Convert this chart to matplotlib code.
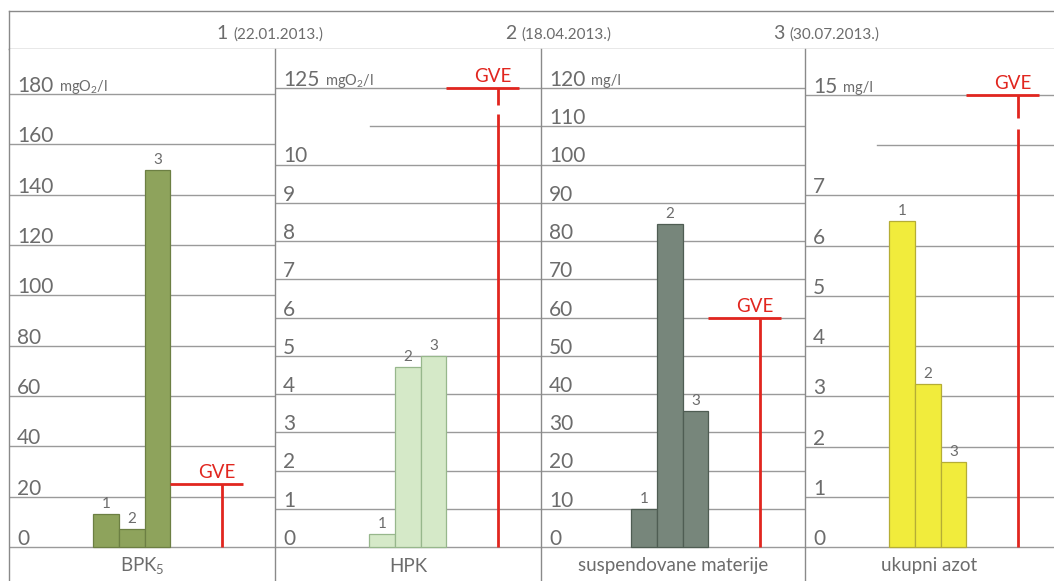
import matplotlib
matplotlib.use("Agg")
import matplotlib.pyplot as plt
import matplotlib.transforms as mtransforms

plt.rcParams["font.family"] = ["Lato", "DejaVu Sans"]
plt.rcParams["mathtext.default"] = "regular"

# ── data ──────────────────────────────────────────────────────────────────────
PANEL_NAMES   = ["BPK$_5$", "HPK", "suspendovane materije", "ukupni azot"]
UNITS         = ["mgO$_2$/l", "mgO$_2$/l", "mg/l", "mg/l"]
SAMPLE_LABELS = ["1", "2", "3"]
HEADER_NUMS   = ["1", "2", "3"]
HEADER_DATES  = ["(22.01.2013.)", "(18.04.2013.)", "(30.07.2013.)"]

BPK5_VALUES = [13, 7, 150]
HPK_VALUES  = [0.35, 4.7, 5.0]
SUSP_VALUES = [10, 84.5, 35.5]
AZOT_VALUES = [6.5, 3.25, 1.7]
GVE_VALUES  = [25, 125, 60, 15]

BPK5_TICKS = [0, 20, 40, 60, 80, 100, 120, 140, 160, 180]
HPK_TICKS  = [0, 1, 2, 3, 4, 5, 6, 7, 8, 9, 10]
SUSP_TICKS = [0, 10, 20, 30, 40, 50, 60, 70, 80, 90, 100, 110, 120]
AZOT_TICKS = [0, 1, 2, 3, 4, 5, 6, 7]
TOP_LABELS = [180, 125, 120, 15]     # value written on the top line

# broken axes: top line sits at this scale position, short line below it
TOP_POS     = [180, 12, 120, 9]
PARTIAL_POS = [None, 11, None, 8]

VALUES = [BPK5_VALUES, HPK_VALUES, SUSP_VALUES, AZOT_VALUES]
TICKS  = [BPK5_TICKS, HPK_TICKS, SUSP_TICKS, AZOT_TICKS]

# ── style ─────────────────────────────────────────────────────────────────────
BAR_FILL  = ["#8ea35c", "#d5e9c8", "#77867b", "#f1ec3c"]
BAR_EDGE  = ["#6c7f43", "#97b78c", "#4f5d53", "#b5ad35"]
RED       = "#e1261f"
GRID      = "#9a9a9a"
FRAME     = "#8a8a8a"
TXT       = "#6c6c6c"

# ── layout (pixels) ───────────────────────────────────────────────────────────
W, H = 1054, 581
PANEL_X   = [9, 275, 541, 805, 1054]
Y_TOP, Y_HEAD, Y_ZERO, Y_BOT = 11, 49, 547, 581
TOP_LINE_Y   = [94, 88, 88, 95]
BAR_OFFSET   = [84, 94, 90, 84]
BAR_W        = 25.8
PARTIAL_FRAC = [None, 0.357, None, 0.29]
HEADER_X     = [0.199, 0.475, 0.731]

fig = plt.figure(figsize=(W / 100, H / 100), dpi=100)


def px_axes(x0, y0, x1, y1):
    return fig.add_axes([x0 / W, 1 - y1 / H, (x1 - x0) / W, (y1 - y0) / H])


def to_pos(i, v):
    """map a value onto the (possibly broken) scale of panel i"""
    if PARTIAL_POS[i] is not None and v > TICKS[i][-1]:
        return TOP_POS[i]
    return v


# ── header row ────────────────────────────────────────────────────────────────
hax = px_axes(PANEL_X[0], Y_TOP, PANEL_X[-1], Y_HEAD)
hax.set_xlim(0, 1); hax.set_ylim(0, 1)
hax.set_xticks([]); hax.set_yticks([])
hax.spines["right"].set_visible(False)
for sp in ("top", "left", "bottom"):
    hax.spines[sp].set_color(FRAME); hax.spines[sp].set_linewidth(1.0)
for hx, num, date in zip(HEADER_X, HEADER_NUMS, HEADER_DATES):
    t = hax.text(hx, 0.27, num, fontsize=14, color=TXT,
                 va="baseline", ha="left")
    hax.annotate(date, xy=(1, 0.27), xycoords=(t, "data"),
                 xytext=(5, 0), textcoords="offset pixels",
                 fontsize=11, color=TXT, va="baseline", ha="left")

# ── panels ────────────────────────────────────────────────────────────────────
for i in range(4):
    x0, x1 = PANEL_X[i], PANEL_X[i + 1]
    ppu = (Y_ZERO - TOP_LINE_Y[i]) / TOP_POS[i]
    ax = px_axes(x0, Y_HEAD, x1, Y_BOT)
    ax.set_ylim(-(Y_BOT - Y_ZERO) / ppu, (Y_ZERO - Y_HEAD) / ppu)
    xl = -0.5 - BAR_OFFSET[i] / BAR_W
    ax.set_xlim(xl, xl + (x1 - x0) / BAR_W)
    ax.set_xticks([]); ax.set_yticks([])
    for sp in ("top", "right", "bottom"):
        ax.spines[sp].set_visible(False)
    ax.spines["left"].set_color(FRAME); ax.spines["left"].set_linewidth(1.0)

    ytrans = mtransforms.blended_transform_factory(ax.transAxes, ax.transData)

    # gridlines + labels
    for t in TICKS[i]:
        ax.axhline(t, color=GRID, lw=1.0, zorder=1)
    if PARTIAL_POS[i] is not None:
        ax.axhline(TOP_POS[i], color=GRID, lw=1.0, zorder=1)
        ax.axhline(PARTIAL_POS[i], xmin=PARTIAL_FRAC[i], color=GRID, lw=1.0, zorder=1)
        label_ticks = TICKS[i]
    else:
        label_ticks = TICKS[i][:-1]
    for t in label_ticks:
        ax.annotate(str(t), xy=(0, t), xycoords=ytrans, xytext=(8, 2),
                    textcoords="offset pixels", fontsize=15, color=TXT,
                    va="baseline", ha="left")
    top = ax.annotate(str(TOP_LABELS[i]), xy=(0, TOP_POS[i]), xycoords=ytrans,
                      xytext=(8, 2), textcoords="offset pixels", fontsize=15,
                      color=TXT, va="baseline", ha="left")
    ax.annotate(UNITS[i], xy=(1, TOP_POS[i]), xycoords=(top, "data"),
                xytext=(6, 3), textcoords="offset pixels", fontsize=10.5,
                color=TXT, va="baseline", ha="left")

    # bars
    xs = list(range(len(VALUES[i])))
    ax.bar(xs, VALUES[i], width=1.0, color=BAR_FILL[i], edgecolor=BAR_EDGE[i],
           linewidth=0.9, zorder=3)
    for x, v, lab in zip(xs, VALUES[i], SAMPLE_LABELS):
        ax.annotate(lab, xy=(x, v), xytext=(0, 3), textcoords="offset pixels",
                    ha="center", va="bottom", fontsize=11, color=TXT, zorder=4)

    # GVE limit marker
    g = to_pos(i, GVE_VALUES[i])
    ax.plot([2.5, 5.3], [g, g], color=RED, lw=2.0, zorder=4, solid_capstyle="butt")
    if PARTIAL_POS[i] is not None:
        span = TOP_POS[i] - PARTIAL_POS[i]
        gap_lo = PARTIAL_POS[i] + 0.33 * span
        gap_hi = PARTIAL_POS[i] + 0.55 * span
        ax.plot([4.5, 4.5], [0, gap_lo], color=RED, lw=2.0, zorder=4, solid_capstyle="butt")
        ax.plot([4.5, 4.5], [gap_hi, g], color=RED, lw=2.0, zorder=4, solid_capstyle="butt")
    else:
        ax.plot([4.5, 4.5], [0, g], color=RED, lw=2.0, zorder=4, solid_capstyle="butt")
    ax.annotate("GVE", xy=(4.3, g), xytext=(0, 3), textcoords="offset pixels",
                ha="center", va="bottom", fontsize=13.5, color=RED, zorder=5)

    # panel name
    ax.text(0.5, (Y_BOT - 566) / (Y_BOT - Y_HEAD), PANEL_NAMES[i],
            transform=ax.transAxes, ha="center", va="center", fontsize=13.5,
            color=TXT)

fig.savefig("out.png", dpi=100, facecolor="white")
